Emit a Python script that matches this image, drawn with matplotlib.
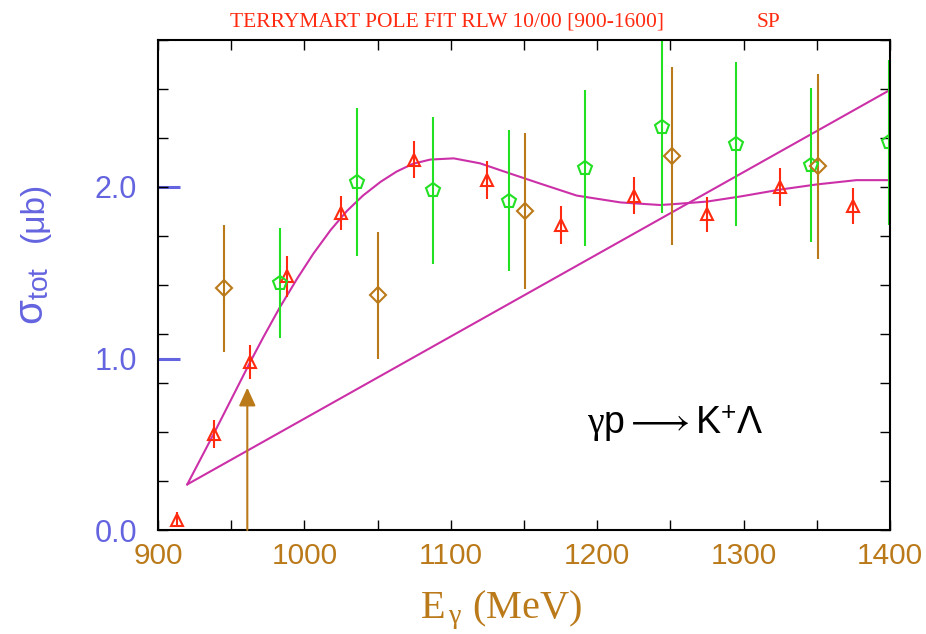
import matplotlib
matplotlib.use("Agg")
import matplotlib.pyplot as plt
from matplotlib.ticker import MultipleLocator

# colours
red = "#ff2a10"
green = "#22e022"
brown = "#bb7a1a"
magenta = "#cc30a8"
blue = "#6464e0"

# red triangles
red_E = [913, 938, 963, 988, 1025, 1075, 1125, 1175, 1225, 1275, 1325, 1375]
red_s = [0.06, 0.56, 0.98, 1.48, 1.85, 2.16, 2.04, 1.78, 1.95, 1.84, 2.00, 1.89]
red_err = [0.045, 0.08, 0.10, 0.12, 0.10, 0.11, 0.11, 0.11, 0.11, 0.10, 0.11, 0.105]

# green pentagons
green_E = [983, 1036, 1088, 1140, 1192, 1244, 1295, 1346, 1399]
green_s = [1.44, 2.03, 1.98, 1.92, 2.11, 2.35, 2.25, 2.13, 2.26]
green_err = [0.32, 0.43, 0.43, 0.41, 0.455, 0.50, 0.48, 0.45, 0.48]

# brown diamonds
brown_E = [945, 1050, 1151, 1251, 1351]
brown_s = [1.41, 1.37, 1.86, 2.18, 2.12]
brown_err = [0.37, 0.37, 0.455, 0.52, 0.54]

# threshold arrow
arrow_E = 961
arrow_top = 0.83

# straight line
line_E = [920, 1400]
line_s = [0.266, 2.566]

# pole fit curve
fit_E = [920, 938, 963, 972, 983, 995, 1006, 1018, 1029, 1040, 1052, 1063, 1074, 1086,
         1102, 1120, 1140, 1161, 1186, 1216, 1243, 1252, 1275, 1298, 1325, 1350, 1377, 1400]
fit_s = [0.266, 0.56, 0.98, 1.125, 1.295, 1.465, 1.61, 1.75, 1.86, 1.95, 2.03, 2.09, 2.135, 2.16,
         2.167, 2.138, 2.08, 2.02, 1.95, 1.91, 1.895, 1.90, 1.915, 1.945, 1.985, 2.015, 2.04, 2.04]

plt.rcParams["font.family"] = ["Liberation Sans", "DejaVu Sans"]
plt.rcParams["mathtext.fontset"] = "custom"
plt.rcParams["mathtext.rm"] = "Liberation Sans"
plt.rcParams["mathtext.it"] = "Liberation Serif"

fig = plt.figure(figsize=(9.26, 6.34), dpi=100)
ax = fig.add_axes([158 / 926, 104 / 634, 732 / 926, 490 / 634])

ax.plot(line_E, line_s, color=magenta, lw=1.5)
ax.plot(fit_E, fit_s, color=magenta, lw=1.5)

ax.errorbar(red_E, red_s, yerr=red_err, fmt="^", ms=8.5, mfc="none", mec=red,
            mew=1.5, ecolor=red, elinewidth=1.5, capsize=0, clip_on=False)
ax.errorbar(green_E, green_s, yerr=green_err, fmt="p", ms=10, mfc="none", mec=green,
            mew=1.5, ecolor=green, elinewidth=1.5, capsize=0)
ax.errorbar(brown_E, brown_s, yerr=brown_err, fmt="D", ms=8, mfc="none", mec=brown,
            mew=1.5, ecolor=brown, elinewidth=1.5, capsize=0)

ax.annotate("", xy=(arrow_E, arrow_top), xytext=(arrow_E, 0),
            arrowprops=dict(arrowstyle="-|>,head_width=0.23,head_length=0.5", color=brown,
                            lw=1.5, mutation_scale=22, shrinkA=0, shrinkB=0))

ax.set_xlim(900, 1400)
ax.set_ylim(0, 20 / 7)

ax.xaxis.set_major_locator(MultipleLocator(100))
ax.xaxis.set_minor_locator(MultipleLocator(50))
ax.tick_params(axis="x", which="both", direction="in", length=7.2, width=1,
               top=True, bottom=True, labelsize=21.5, labelcolor=brown, pad=9)
ax.yaxis.set_major_locator(MultipleLocator(2 / 7))
ax.tick_params(axis="y", which="major", direction="in", length=7, width=1,
               left=True, right=True, labelleft=False)
for s in ax.spines.values():
    s.set_linewidth(1.5)

sec = ax.secondary_yaxis("left")
sec.set_yticks([1, 2], labels=["1.0", "2.0"])
sec.set_yticks([0], labels=["0.0"], minor=True)
sec.tick_params(which="major", direction="in", length=16, width=2.2, color=blue,
                labelcolor=blue, labelsize=22, pad=15)
sec.tick_params(which="minor", length=0, labelcolor=blue, labelsize=22, pad=15)
sec.spines["left"].set_visible(False)

# x axis title
ax.text(0.4686, -0.1796, r"E$_{\,\gamma}$ (MeV)", transform=ax.transAxes,
        family="Liberation Serif", fontsize=29, color=brown, ha="center", va="baseline")

# y axis title
fig.text(43 / 926, 1 - 325 / 634, r"σ$_{\mathrm{tot}}$", rotation=90, rotation_mode="anchor",
         ha="left", va="baseline", fontsize=29, color=blue)
fig.text(43 / 926, 1 - 242 / 634, "(μb)", rotation=90, rotation_mode="anchor",
         ha="left", va="baseline", fontsize=24, color=blue)

ax.text(1193, 0.567, r"$\mathit{\gamma}$p$\longrightarrow$K$^{+}\mathit{\Lambda}$",
        fontsize=27, ha="left", va="baseline", color="black")

fig.text(230 / 926, 1 - 27 / 634, "TERRYMART POLE FIT RLW 10/00 [900-1600]",
         family="Liberation Serif", fontsize=15.5, color=red, va="baseline")
fig.text(757 / 926, 1 - 27 / 634, "SP", family="Liberation Serif", fontsize=15.5,
         color=red, va="baseline")

fig.savefig("out.png", dpi=100)
